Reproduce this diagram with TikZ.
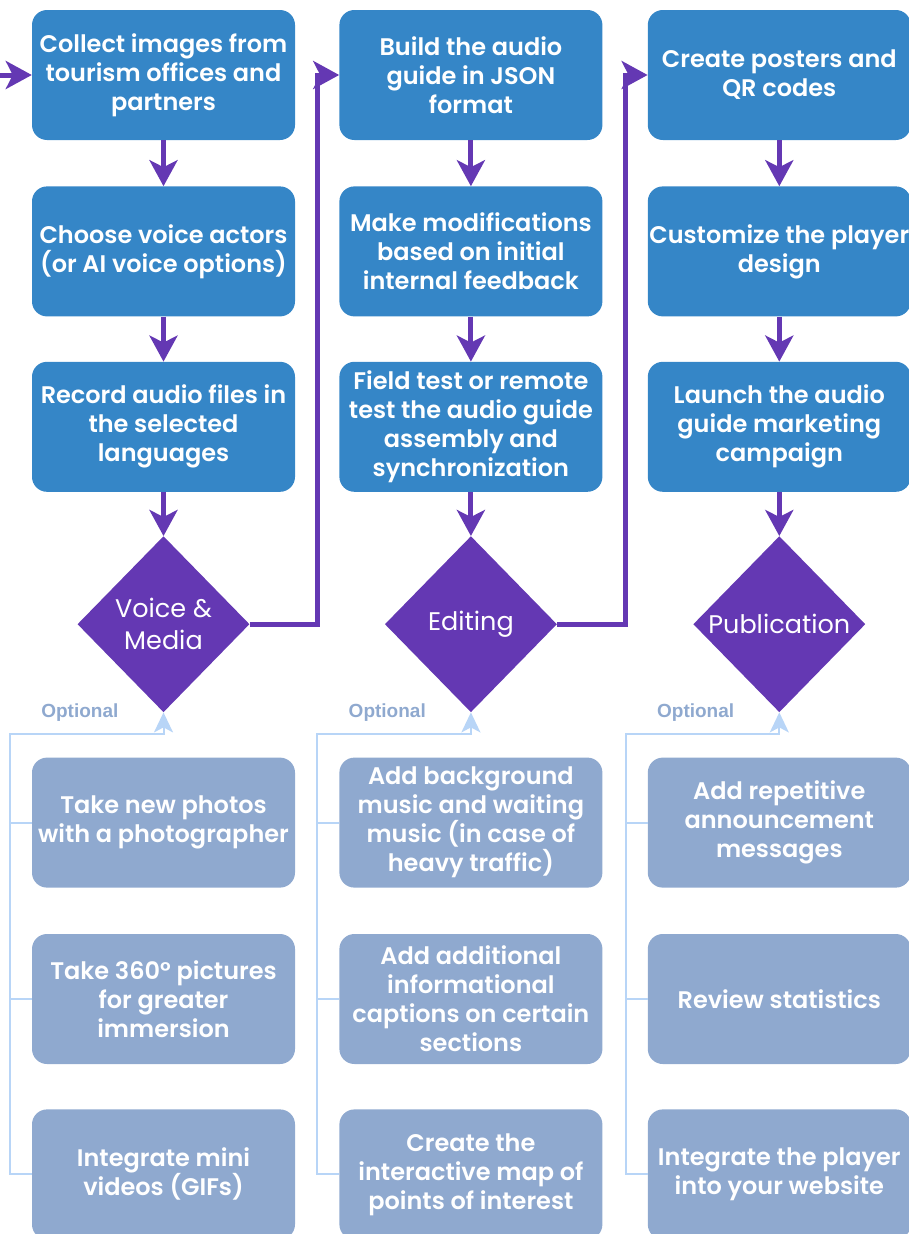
\documentclass[tikz,border=0pt]{standalone}
\usepackage{fontspec}
\setmainfont{Poppins}
\newfontfamily\boxfont{Poppins SemiBold}
\newfontfamily\optfont{Liberation Sans}
\usetikzlibrary{positioning,shapes.geometric,arrows.meta,calc}

\definecolor{stepblue}{HTML}{3586C7}
\definecolor{phasepurple}{HTML}{6438B3}
\definecolor{optblue}{HTML}{8FA9CF}
\definecolor{optline}{HTML}{B8D5F7}

\tikzset{
  stepbox/.style={rectangle, rounded corners=15pt, fill=stepblue,
    minimum width=263pt, minimum height=130pt, inner sep=0pt,
    text=white, align=center, font=\boxfont\fontsize{24}{29}\selectfont},
  optbox/.style={stepbox, fill=optblue},
  phase/.style={diamond, fill=phasepurple, minimum width=172pt,
    minimum height=176pt, inner sep=0pt, text=white, align=center,
    font=\fontsize{25.5}{32}\selectfont},
  optlabel/.style={text=optblue, font=\optfont\bfseries\fontsize{19}{22}\selectfont},
  flow/.style={draw=phasepurple, line width=5pt,
    -{Stealth[length=26pt,width=28pt,inset=7pt]}},
  optflow/.style={draw=optline, line width=2pt,
    -{Stealth[length=20pt,width=19pt,inset=5pt]}},
  optwire/.style={draw=optline, line width=2pt}
}

\begin{document}
\begin{tikzpicture}[x=1pt,y=1pt]
  \useasboundingbox (0,0) rectangle (909,-1234);

  % first column
  \node[stepbox] (b11) at (163.5,-75)
    {Collect images from\\tourism offices and\\partners};
  \node[stepbox, below=46pt of b11] (b12)
    {Choose voice actors\\(or AI voice options)};
  \node[stepbox, below=45pt of b12] (b13)
    {Record audio files in\\the selected\\languages};
  \node[phase, below=44pt of b13] (d1) {Voice \&\\Media};
  \node[optbox, below=45pt of d1] (o11)
    {Take new photos\\with a photographer};
  \node[optbox, below=46pt of o11] (o12)
    {Take 360° pictures\\for greater\\immersion};
  \node[optbox, below=45pt of o12] (o13)
    {Integrate mini\\videos (GIFs)};

  % second column
  \node[stepbox, right=44pt of b11] (b21)
    {Build the audio\\guide in JSON\\format};
  \node[stepbox, below=46pt of b21] (b22)
    {Make modifications\\based on initial\\internal feedback};
  \node[stepbox, below=45pt of b22] (b23)
    {Field test or remote\\test the audio guide\\assembly and\\synchronization};
  \node[phase, below=44pt of b23] (d2) {Editing};
  \node[optbox, below=45pt of d2] (o21)
    {Add background\\music and waiting\\music (in case of\\heavy traffic)};
  \node[optbox, below=46pt of o21] (o22)
    {Add additional\\informational\\captions on certain\\sections};
  \node[optbox, below=45pt of o22] (o23)
    {Create the\\interactive map of\\points of interest};

  % third column
  \node[stepbox, right=45pt of b21] (b31)
    {Create posters and\\QR codes};
  \node[stepbox, below=46pt of b31] (b32)
    {Customize the player\\design};
  \node[stepbox, below=45pt of b32] (b33)
    {Launch the audio\\guide marketing\\campaign};
  \node[phase, below=44pt of b33] (d3) {Publication};
  \node[optbox, below=45pt of d3] (o31)
    {Add repetitive\\announcement\\messages};
  \node[optbox, below=46pt of o31] (o32)
    {Review statistics};
  \node[optbox, below=45pt of o32] (o33)
    {Integrate the player\\into your website};

  % main flow
  \coordinate (entry) at ($(b11.west)+(-40pt,0)$);
  \draw[flow] (entry) -- (b11.west);
  \foreach \c in {1,2,3} {
    \draw[flow] (b\c1.south) -- (b\c2.north);
    \draw[flow] (b\c2.south) -- (b\c3.north);
    \draw[flow] (b\c3.south) -- (d\c.north);
  }
  \coordinate (g1) at ($(b11.east)!0.5!(b21.west)$);
  \coordinate (g2) at ($(b21.east)!0.5!(b31.west)$);
  \draw[flow] (d1.east) -| (g1) -- (b21.west);
  \draw[flow] (d2.east) -| (g2) -- (b31.west);

  % optional branches
  \foreach \c in {1,2,3} {
    \coordinate (k\c) at ($(o\c1.north west)+(-22pt,23pt)$);
    \node[optlabel, anchor=west] (opt\c) at ($(k\c)+(28pt,22pt)$) {Optional};
    \draw[optflow] (o\c3.west) -| (k\c) -| (d\c.south);
    \draw[optwire] (o\c1.west) -- (o\c1.west -| k\c);
    \draw[optwire] (o\c2.west) -- (o\c2.west -| k\c);
  }
\end{tikzpicture}
\end{document}
